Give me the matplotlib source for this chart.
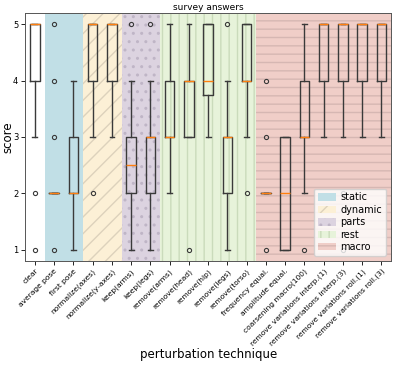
import matplotlib
matplotlib.use("Agg")
import matplotlib.pyplot as plt
from matplotlib.patches import Patch

labels = ["clear", "average pose", "first pose", "normalize(axes)", "normalize(y-axes)",
          "keep(arms)", "keep(legs)", "remove(arms)", "remove(head)", "remove(hip)",
          "remove(legs)", "remove(torso)", "frequency equal.", "amplitude equal.",
          "coarsening macro(100)", "remove variations interp.(1)",
          "remove variations interp.(3)", "remove variations roll.(1)",
          "remove variations roll.(3)"]
medians = [5, 2, 2, 5, 5, 2.5, 3, 3, 4, 4, 3, 4, 2, 2, 3, 5, 5, 5, 5]
q1 = [4, 2, 2, 4, 4, 2, 2, 3, 3, 3.75, 2, 4, 2, 1, 3, 4, 4, 4, 4]
q3 = [5, 2, 3, 5, 5, 3, 3, 4, 4, 5, 3, 5, 2, 3, 4, 5, 5, 5, 5]
whislo = [3, 2, 1, 3, 3, 1, 1, 2, 3, 3, 1, 3, 2, 1, 2, 3, 3, 3, 3]
whishi = [5, 2, 4, 5, 5, 4, 4, 5, 5, 5, 4, 5, 2, 3, 5, 5, 5, 5, 5]
fliers = [[2, 1], [5, 4, 3, 1], [], [2], [], [5], [5], [], [1], [], [5], [2],
          [4, 3, 1], [], [1], [], [2, 1], [], []]

groups = ["static", "dynamic", "parts", "rest", "macro"]
group_start = [1, 3, 5, 7, 12]
group_end = [2, 4, 6, 11, 18]
group_colors = ["#c1dfe6", "#fcf0d6", "#dcd3e0", "#e7f3da", "#f0cec8"]
group_hatch_colors = ["#c1dfe6", "#ddd2bc", "#bfb5c6", "#cadbbb", "#d6b7b3"]
group_hatches = [None, "//", "..", "||", "--"]

fig = plt.figure(figsize=(3.95, 3.69), dpi=100)
ax = fig.add_axes([0.064, 0.293, 0.926, 0.672])

for s, e, c, hc, h in zip(group_start, group_end, group_colors, group_hatch_colors, group_hatches):
    ax.axvspan(s - 0.5, e + 0.5, facecolor=c, edgecolor=hc, hatch=h, linewidth=0, zorder=0)

stats = []
for i in range(len(labels)):
    stats.append(dict(med=medians[i], q1=q1[i], q3=q3[i], whislo=whislo[i],
                      whishi=whishi[i], fliers=fliers[i], label=labels[i]))

ax.bxp(stats, positions=list(range(len(labels))), widths=0.5,
       boxprops=dict(color="#3a3a3a", linewidth=1.0),
       whiskerprops=dict(color="#3a3a3a", linewidth=1.0),
       capprops=dict(color="#3a3a3a", linewidth=1.0),
       medianprops=dict(color="#ff7f0e", linewidth=1.0),
       flierprops=dict(marker="o", markersize=3, markerfacecolor="none",
                       markeredgecolor="#3a3a3a", markeredgewidth=0.8))

ax.set_xlim(-0.5, len(labels) - 0.5)
ax.set_ylim(0.8, 5.2)
ax.set_yticks([1, 2, 3, 4, 5])
ax.set_xticks(range(len(labels)))
ax.set_xticklabels(labels, rotation=45, ha="right", rotation_mode="anchor", fontsize=5.4)
ax.tick_params(axis="y", labelsize=6, length=3, width=0.6, pad=2)
ax.tick_params(axis="x", length=3, width=0.6, pad=2)
for sp in ax.spines.values():
    sp.set_linewidth(0.7)
    sp.set_color("#555555")

ax.set_title("survey answers", fontsize=6.5, pad=2)
ax.set_ylabel("score", fontsize=8.5)
ax.yaxis.set_label_coords(-0.03, 0.5)
ax.set_xlabel("perturbation technique", fontsize=8.5)
ax.xaxis.set_label_coords(0.5, -0.35)

handles = [Patch(facecolor=c, edgecolor=hc, hatch=h, linewidth=0, label=g)
           for g, c, hc, h in zip(groups, group_colors, group_hatch_colors, group_hatches)]
ax.legend(handles=handles, loc="lower right", fontsize=7, handlelength=1.8,
          handleheight=0.8, labelspacing=0.25, handletextpad=0.5, borderpad=0.4,
          framealpha=0.8)

fig.savefig("out.png", dpi=100)
